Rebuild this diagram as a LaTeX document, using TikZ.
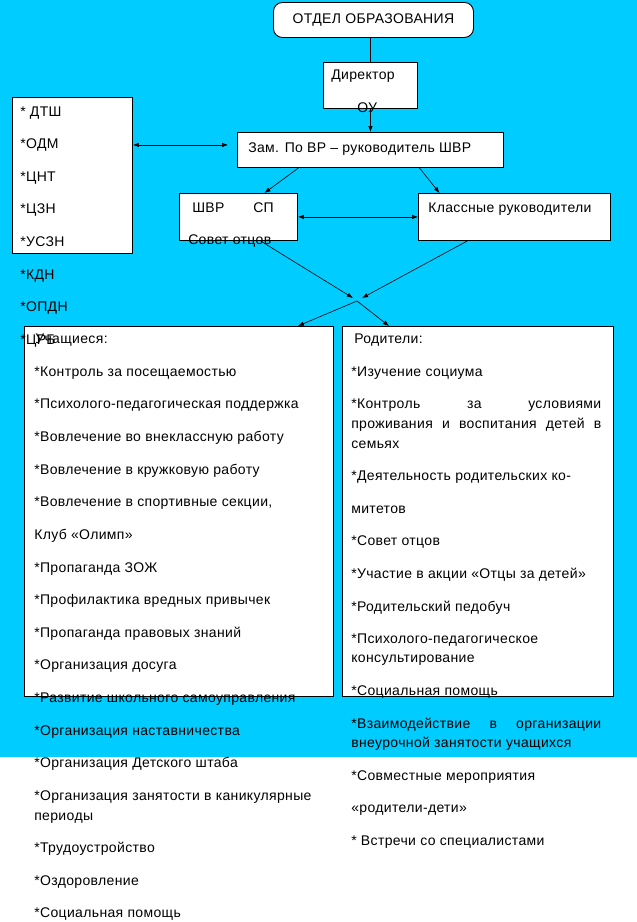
\documentclass[tikz,border=0pt]{standalone}
\usepackage{fontspec}
\setmainfont{Liberation Sans}[LetterSpace=2.5]
\usetikzlibrary{arrows.meta}
\definecolor{bgcyan}{HTML}{00CCFF}

\begin{document}
\begin{tikzpicture}[x=1pt,y=-1pt,>={Latex[length=6pt,width=4.5pt]},line width=0.6pt,
  font=\fontsize{14}{19.5}\selectfont,inner sep=0pt,
  box/.style={draw,rectangle,line width=0.9pt,fill=white,anchor=north west}]

  \useasboundingbox (0,0) rectangle (637,922);
  \fill[bgcyan] (0,0) rectangle (637,757);

  % Head of the structure
  \node[draw,line width=0.9pt,fill=white,rounded corners=9pt,minimum width=200pt,minimum height=35pt,anchor=north west] (otdel) at (273,2) {ОТДЕЛ ОБРАЗОВАНИЯ};
  \node[box,minimum width=94pt,minimum height=46pt] (dir) at (323,62) {};
  \node[box,minimum width=266pt,minimum height=35pt] (zam) at (237,132) {};
  \node[box,minimum width=120pt,minimum height=156pt] (org) at (12,97) {};
  \node[box,minimum width=118pt,minimum height=47pt] (shvr) at (179,193) {};
  \node[box,minimum width=192pt,minimum height=47pt] (klass) at (418,193) {};

  % Two big lists
  \node[box,minimum width=309pt,minimum height=370pt] (uch) at (24,326) {};
  \node[box,minimum width=271pt,minimum height=370pt] (rod) at (342,326) {};

  \draw (otdel.south -| dir.north) -- (dir.north);
  \draw[->] (dir) -- (zam);

  \coordinate (zl) at ([xshift=-9pt,yshift=5pt]zam.west);
  \coordinate (ol) at (org.east |- zl);
  \draw[<->] (ol) -- (zl);

  \draw[->] ([xshift=-72pt]zam.south) -- ([xshift=26pt]shvr.north);
  \draw[->] ([xshift=49pt]zam.south) -- ([xshift=-75pt]klass.north);
  \draw[<->] (shvr) -- (klass);

  % Crossing arrows
  \coordinate (cl) at (353,298);
  \coordinate (cr) at (362,298);
  \coordinate (cm) at (357,301);
  \draw[->] ([xshift=22pt]shvr.south) -- (cl);
  \draw[->] ([xshift=-47pt]klass.south) -- (cr);
  \draw[->] (cm) -- ([xshift=-36pt]uch.north east);
  \draw[->] (cm) -- ([xshift=47pt]rod.north west);

  \begin{scope}[every node/.style={anchor=base west}]
    \node (dirtxt) at (331,79) {Директор};
    \node (ou) at (357,112) {ОУ};
    \node (zamtxt) at (248,152) {Зам. По ВР – руководитель ШВР};
    \node (shvrtxt) at (192,212) {ШВР};
    \node (sptxt) at (253,212) {СП};
    \node (sovtxt) at (188,244) {Совет отцов};
    \node (klasstxt) at (428,212) {Классные руководители};

    % Partners
    \node (o1) at (20,116) {* ДТШ};
    \node (o2) at (20,148.6) {*ОДМ};
    \node (o3) at (20,181.2) {*ЦНТ};
    \node (o4) at (20,213.8) {*ЦЗН};
    \node (o5) at (20,246.4) {*УСЗН};
    \node (o6) at (20,279) {*КДН};
    \node (o7) at (20,311.6) {*ОПДН};

    % Pupils
    \node (u0) at (35,343) {Учащиеся:};
    \node (o8) at (20,344.2) {*ЦРБ};
    \node (u1) at (34,376) {*Контроль за посещаемостью};
    \node (u2) at (34,408.6) {*Психолого-педагогическая поддержка};
    \node (u3) at (34,441) {*Вовлечение во внеклассную работу};
    \node (u4) at (34,474) {*Вовлечение в кружковую работу};
    \node (u5) at (34,506) {*Вовлечение в спортивные секции,};
    \node (u6) at (34,539) {Клуб «Олимп»};
    \node (u7) at (34,572) {*Пропаганда ЗОЖ};
    \node (u8) at (34,604) {*Профилактика вредных привычек};
    \node (u9) at (34,637) {*Пропаганда правовых знаний};
    \node (u10) at (34,669) {*Организация досуга};
    \node (u11) at (34,702) {*Развитие школьного самоуправления};
    \node (u12) at (34,735) {*Организация наставничества};
    \node (u13) at (34,767) {*Организация Детского штаба};
    \node (u14) at (34,800) {*Организация занятости в каникулярные};
    \node (u15) at (34,820) {периоды};
    \node (u16) at (34,852) {*Трудоустройство};
    \node (u17) at (34,885) {*Оздоровление};
    \node (u18) at (34,917) {*Социальная помощь};

    % Parents
    \node (r0) at (354,343) {Родители:};
    \node (r1) at (351,376) {*Изучение социума};
    \node (r2) at (351,408) {\makebox[250pt][s]{*Контроль за условиями}};
    \node (r3) at (351,428) {\makebox[250pt][s]{проживания и воспитания детей в}};
    \node (r4) at (351,448) {семьях};
    \node (r5) at (351,480) {*Деятельность родительских ко-};
    \node (r6) at (351,513) {митетов};
    \node (r7) at (351,545) {*Совет отцов};
    \node (r8) at (351,578) {*Участие в акции «Отцы за детей»};
    \node (r9) at (351,611) {*Родительский педобуч};
    \node (r10) at (351,643) {*Психолого-педагогическое};
    \node (r11) at (351,662) {консультирование};
    \node (r12) at (351,695) {*Социальная помощь};
    \node (r13) at (351,728) {\makebox[250pt][s]{*Взаимодействие в организации}};
    \node (r14) at (351,747) {внеурочной занятости учащихся};
    \node (r15) at (351,780) {*Совместные мероприятия};
    \node (r16) at (351,812) {«родители-дети»};
    \node (r17) at (351,845) {* Встречи со специалистами};
  \end{scope}

\end{tikzpicture}
\end{document}
